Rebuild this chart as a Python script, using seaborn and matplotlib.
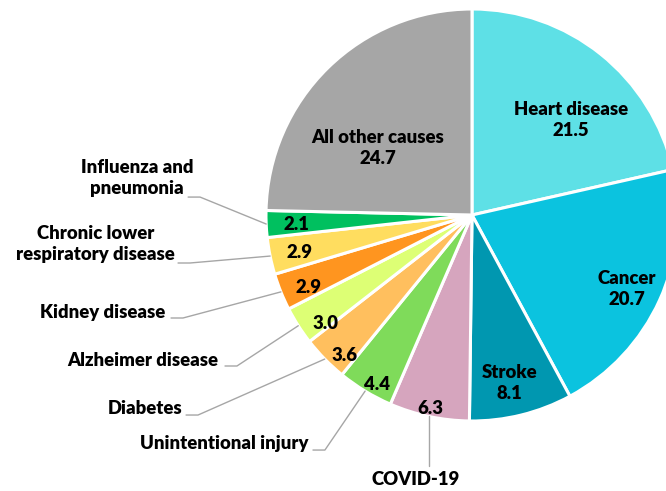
import numpy as np
import matplotlib
matplotlib.use("Agg")
import matplotlib.pyplot as plt
import seaborn as sns

# causas de morte (%) - ordem horaria a partir do topo
causas = ["Heart disease", "Cancer", "Stroke", "COVID-19", "Unintentional injury",
          "Diabetes", "Alzheimer disease", "Kidney disease",
          "Chronic lower\nrespiratory disease", "Influenza and\npneumonia",
          "All other causes"]
valores = [21.5, 20.7, 8.1, 6.3, 4.4, 3.6, 3.0, 2.9, 2.9, 2.1, 24.7]
cores = ["#5EE0E6", "#0BC3DF", "#0097B0", "#D6A5BE", "#7FDB5A", "#FFBF5E",
         "#DDFF75", "#FF951F", "#FFDD5F", "#00C05F", "#A6A6A6"]

# rotulos dentro da fatia: (x, y) em coordenadas do eixo
pos_valor = [(0.481, 0.461), (0.752, -0.359), (0.180, -0.816), (-0.204, -0.937),
             (-0.461, -0.825), (-0.621, -0.680), (-0.709, -0.529), (-0.796, -0.354),
             (-0.835, -0.184), (-0.854, -0.044), (-0.456, 0.325)]
nome_dentro = [True, True, True, False, False, False, False, False, False, False, True]

# rotulos de fora: texto (x, y), joelho da linha (x, y)
pos_fora = {
    3: ((-0.272, -1.282), (-0.208, -1.218)),
    4: ((-0.796, -1.107), (-0.714, -1.141)),
    5: ((-1.408, -0.937), (-1.330, -0.971)),
    6: ((-1.233, -0.704), (-1.141, -0.733)),
    7: ((-1.490, -0.471), (-1.403, -0.500)),
    8: ((-1.442, -0.141), (-1.369, -0.233)),
    9: ((-1.354, 0.180), (-1.320, 0.087)),
}

sns.set_theme(style="white")
plt.rcParams["font.family"] = ["Lato", "DejaVu Sans"]
TAM = 13.3
PESO = "heavy"
ESPACO = 1.3

fig = plt.figure(figsize=(6.66, 4.91), dpi=100)
ax = fig.add_axes([266 / 666, 70 / 491, 412 / 666, 412 / 491])

wedges, _ = ax.pie(valores, colors=sns.color_palette(cores), startangle=90,
                   counterclock=False, radius=1,
                   wedgeprops=dict(edgecolor="white", linewidth=2.2))
ax.set_xlim(-1, 1)
ax.set_ylim(-1, 1)
ax.axis("off")

for i, w in enumerate(wedges):
    x, y = pos_valor[i]
    txt = f"{valores[i]:.1f}"
    if nome_dentro[i]:
        txt = causas[i] + "\n" + txt
    ax.text(x, y, txt, ha="center", va="center", fontsize=TAM, fontweight=PESO,
            color="black", linespacing=ESPACO)

    if i in pos_fora:
        (tx, ty), (kx, ky) = pos_fora[i]
        ang = np.deg2rad((w.theta1 + w.theta2) / 2)
        px, py = np.cos(ang), np.sin(ang)
        if i == 3:
            ax.plot([px, px], [py, ky], color="#A6A6A6", lw=1.0, clip_on=False)
            ax.text(tx, ty, causas[i], ha="center", va="center", fontsize=TAM,
                    fontweight=PESO, color="black")
        else:
            ax.plot([px, kx, kx - 0.058], [py, ky, ky], color="#A6A6A6", lw=1.0,
                    clip_on=False)
            ax.text(tx, ty, causas[i], ha="right", va="center", fontsize=TAM,
                    fontweight=PESO, color="black", multialignment="center",
                    linespacing=ESPACO)

fig.savefig("out.png", dpi=100)
